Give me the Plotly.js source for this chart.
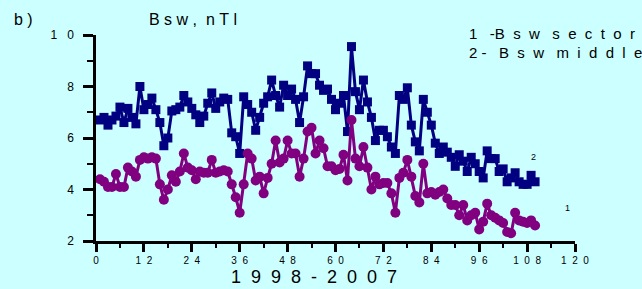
<!DOCTYPE html>
<html>
<head>
<meta charset="utf-8">
<script src="https://cdn.plot.ly/plotly-3.0.1.min.js"></script>
<style>html,body{margin:0;padding:0;background:#ccffff;}#chart{width:642px;height:289px;}</style>
</head>
<body>
<div id="chart"></div>
<script>
// month index 1..110 (1998-2007)
const months = Array.from({length: 110}, (_, i) => i + 1);

// series 2: Bsw middle (navy squares)
const bswMiddle = [6.7,6.8,6.5,6.7,6.85,7.2,6.6,7.15,6.8,6.55,
  8.0,7.1,7.3,7.55,7.1,6.6,5.7,6.0,7.05,7.1,
  7.2,7.65,7.4,7.15,6.9,6.6,6.85,7.35,7.75,7.15,
  7.4,7.55,7.5,6.2,6.05,5.4,7.6,7.3,7.0,6.3,
  6.8,7.35,7.6,8.25,7.65,7.2,8.05,7.65,7.9,7.5,
  6.6,7.6,8.8,8.5,8.5,8.05,7.85,7.9,7.5,7.1,
  7.35,7.65,6.25,9.55,7.8,7.1,8.25,7.4,6.8,5.9,
  6.3,6.3,6.05,5.65,5.4,7.65,7.5,7.95,6.5,5.85,
  5.5,7.5,7.0,6.5,5.8,5.4,5.65,5.45,5.25,4.9,
  5.35,5.1,4.7,5.25,5.0,4.7,4.45,5.5,5.2,5.2,
  4.7,4.8,4.3,4.45,4.65,4.3,4.2,4.2,4.55,4.3];

// series 1: Bsw sector (purple circles)
const bswSector = [4.4,4.3,4.1,4.1,4.6,4.1,4.1,4.85,4.7,4.5,
  5.15,5.25,5.2,5.25,5.2,4.2,3.6,4.0,4.55,4.3,
  4.7,5.4,4.85,4.75,4.4,4.7,4.65,4.65,5.15,4.65,
  4.7,4.75,4.7,4.2,3.7,3.1,4.2,5.4,5.2,4.35,
  4.5,3.85,4.45,5.0,5.9,5.05,5.2,5.9,5.4,5.4,
  4.5,5.2,6.25,6.4,5.4,5.9,5.6,4.9,4.9,4.75,
  4.8,5.35,4.35,6.7,5.2,4.9,5.65,4.85,4.0,4.5,
  4.2,4.25,4.25,3.85,3.1,4.45,4.65,5.15,4.5,3.75,
  3.5,5.0,3.85,3.9,3.8,3.9,4.0,3.65,3.4,3.4,
  3.0,3.4,2.8,3.0,3.1,2.45,2.75,3.45,3.0,2.9,
  2.8,2.7,2.35,2.3,3.1,2.8,2.75,2.7,2.8,2.6];

const xTickVals = [0,12,24,36,48,60,72,84,96,108,120];
const xTickLabels = ["0","12","24","36","48","60","72","84","96","108","120"];
const yTickVals = [2,4,6,8,10];
const yTickLabels = ["2","4","6","8","10"];

// spread characters apart like the original figure
const NB = '\u00a0';
const gap = n => NB.repeat(n);
const spread = (s, n) => s.split('').join(gap(n));

const L = 96, R = 575, T = 35, B = 241, W = 642, H = 289;
const px = x => (x - L) / (R - L);
const py = y => (B - y) / (B - T);
const font = "Liberation Sans, Arial, sans-serif";

const traces = [
  {x: months, y: bswMiddle, mode: 'lines+markers', name: '2 - Bsw middle',
   line: {color: '#000080', width: 3},
   marker: {symbol: 'square', size: 9, color: '#000080'}},
  {x: months, y: bswSector, mode: 'lines+markers', name: '1 - Bsw sector',
   line: {color: '#800080', width: 3},
   marker: {symbol: 'circle', size: 10, color: '#800080'}}
];

const layout = {
  width: W, height: H,
  margin: {l: L, r: W - R, t: T, b: H - B},
  paper_bgcolor: '#ccffff', plot_bgcolor: '#ccffff',
  showlegend: false,
  font: {family: font, color: '#000', size: 11},
  xaxis: {range: [0, 120], tickvals: xTickVals, ticktext: xTickLabels.map(s => spread(s, 2)),
    showgrid: false, zeroline: false, showline: true, linecolor: '#000', linewidth: 3,
    ticks: 'outside', ticklen: 8, tickwidth: 3, tickcolor: '#000',
    tickfont: {size: 10, family: font},
    minor: {dtick: 6, tick0: 0, ticks: 'outside', ticklen: 4, tickwidth: 2, tickcolor: '#000', showgrid: false}},
  yaxis: {range: [2, 10], tickvals: yTickVals, ticktext: yTickLabels.map(s => spread(s, 3) + gap(2)),
    showgrid: false, zeroline: false, showline: true, linecolor: '#000', linewidth: 3,
    ticks: 'outside', ticklen: 10, tickwidth: 3, tickcolor: '#000',
    tickfont: {size: 12, family: font},
    minor: {dtick: 1, tick0: 0, ticks: 'outside', ticklen: 6, tickwidth: 2, tickcolor: '#000', showgrid: false}},
  annotations: [
    {text: 'b' + gap(1) + ')', xref: 'paper', yref: 'paper', x: px(12), y: py(19), xanchor: 'left', yanchor: 'middle', showarrow: false, font: {size: 16}},
    {text: spread('Bsw,', 1) + gap(2) + spread('nTl', 1), xref: 'paper', yref: 'paper', x: px(147), y: py(19), xanchor: 'left', yanchor: 'middle', showarrow: false, font: {size: 16}},
    {text: '1' + gap(3) + '-' + spread('Bsw', 2) + gap(3) + spread('sector', 2), xref: 'paper', yref: 'paper', x: px(467), y: py(33), xanchor: 'left', yanchor: 'middle', showarrow: false, font: {size: 15}},
    {text: '2' + gap(1) + '-' + gap(3) + spread('Bsw', 2) + gap(3) + spread('middle', 2), xref: 'paper', yref: 'paper', x: px(467), y: py(53), xanchor: 'left', yanchor: 'middle', showarrow: false, font: {size: 15}},
    {text: spread('1998-2007', 2), xref: 'paper', yref: 'paper', x: px(314), y: py(277), xanchor: 'center', yanchor: 'middle', showarrow: false, font: {size: 18}},
    {text: '2', xref: 'x', yref: 'y', x: 109.5, y: 5.26, showarrow: false, font: {size: 9}},
    {text: '1', xref: 'x', yref: 'y', x: 118, y: 3.3, showarrow: false, font: {size: 9}}
  ]
};

Plotly.newPlot('chart', traces, layout, {displayModeBar: false, staticPlot: true});
</script>
</body>
</html>
